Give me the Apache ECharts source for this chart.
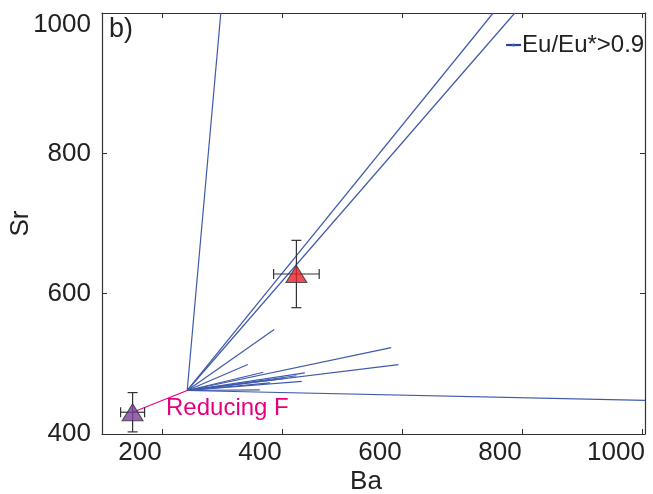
<!DOCTYPE html>
<html>
<head>
<meta charset="utf-8">
<script src="https://cdn.jsdelivr.net/npm/echarts@6/dist/echarts.min.js"></script>
<style>
  html, body { margin: 0; padding: 0; background: #fff; }
  #chart { width: 653px; height: 494px; }
</style>
</head>
<body>
<div id="chart"></div>
<script>
const FONT = '"Liberation Sans", Arial, Helvetica, sans-serif';
const TEXT = '#222';
const FRAME = '#333';
const TREND = '#3f5aab';
const PINK = '#e6007e';

// Common starting composition of the modelled trends
const startBa = 242;
const startSr = 462;

// End points of the modelled trends (Eu/Eu* > 0.9)
const trendEndBa = [298, 752, 788, 387, 343, 582, 594, 369, 438, 424, 433, 402, 380, 363, 1005];
const trendEndSr = [1000, 1000, 1000, 549, 499, 523, 499, 488, 487, 483, 475, 479, 473, 463, 448];

// Measured compositions with their uncertainties
const sampleBa = [151, 424];
const sampleSr = [431, 628];
const sampleErrBa = [20, 38];
const sampleErrSr = [28, 48];
const sampleColors = ['#7b3f98', '#e3202b'];

// Axis ticks
const xTicks = [200, 400, 600, 800, 1000];
const yTicks = [400, 600, 800, 1000];

const X_MIN = 100, X_MAX = 1005, Y_MIN = 400, Y_MAX = 1000;

const trendSeries = trendEndBa.map((ba, i) => ({
  name: 'Eu/Eu*>0.9',
  type: 'line',
  data: [[startBa, startSr], [ba, trendEndSr[i]]],
  symbol: 'none',
  lineStyle: { color: TREND, width: 1.2 },
  itemStyle: { color: TREND },
  silent: true,
  z: 2
}));

const reducingLine = {
  name: 'Reducing F',
  type: 'line',
  data: [[sampleBa[0], sampleSr[0]], [startBa, startSr]],
  symbol: 'none',
  lineStyle: { color: PINK, width: 1.2 },
  silent: true,
  z: 3
};

const errorBars = {
  type: 'custom',
  data: sampleBa.map((ba, i) => [ba, sampleSr[i], sampleErrBa[i], sampleErrSr[i]]),
  renderItem(params, api) {
    const x = api.value(0), y = api.value(1), ex = api.value(2), ey = api.value(3);
    const c = api.coord([x, y]);
    const l = api.coord([x - ex, y]);
    const r = api.coord([x + ex, y]);
    const t = api.coord([x, y + ey]);
    const b = api.coord([x, y - ey]);
    const cap = 5;
    const style = { stroke: FRAME, lineWidth: 1.2 };
    const seg = (x1, y1, x2, y2) => ({ type: 'line', shape: { x1, y1, x2, y2 }, style });
    return {
      type: 'group',
      children: [
        seg(l[0], c[1], r[0], c[1]),
        seg(c[0], t[1], c[0], b[1]),
        seg(l[0], c[1] - cap, l[0], c[1] + cap),
        seg(r[0], c[1] - cap, r[0], c[1] + cap),
        seg(c[0] - cap, t[1], c[0] + cap, t[1]),
        seg(c[0] - cap, b[1], c[0] + cap, b[1])
      ]
    };
  },
  silent: true,
  z: 4
};

const samples = {
  type: 'scatter',
  data: sampleBa.map((ba, i) => ({
    value: [ba, sampleSr[i]],
    itemStyle: { color: sampleColors[i], borderColor: FRAME, borderWidth: 1 }
  })),
  symbol: 'triangle',
  symbolSize: [21, 17],
  silent: true,
  z: 5
};

const tickStyle = { show: true, inside: true, length: 5, lineStyle: { color: FRAME, width: 1 } };
const lineStyle = { show: true, lineStyle: { color: FRAME, width: 1.2 } };

const chart = echarts.init(document.getElementById('chart'), null, { renderer: 'canvas' });
chart.setOption({
  animation: false,
  backgroundColor: '#fff',
  grid: { left: 102, right: 8, top: 13, bottom: 60, containLabel: false, outerBoundsMode: 'none' },
  legend: {
    data: ['Eu/Eu*>0.9'],
    left: 500,
    top: 28,
    itemWidth: 15,
    itemHeight: 4,
    itemGap: 4,
    lineStyle: { width: 2.2, color: '#2a3f96' },
    textStyle: { fontFamily: FONT, fontSize: 24, color: TEXT, padding: [0, 0, 0, -4] },
    selectedMode: false
  },
  xAxis: [{
    type: 'value', min: X_MIN, max: X_MAX, position: 'bottom',
    name: 'Ba', nameLocation: 'middle', nameGap: 35, nameMoveOverlap: false,
    nameTextStyle: { fontFamily: FONT, fontSize: 26, color: TEXT, padding: [0, 15, 0, 0] },
    axisLine: lineStyle,
    axisTick: Object.assign({ customValues: xTicks }, tickStyle),
    axisLabel: {
      customValues: xTicks,
      margin: 6,
      formatter: v => (v === 1000 ? '{e|' + v + '}' : '{n|' + v + '}'),
      rich: {
        n: { fontFamily: FONT, fontSize: 26, color: TEXT, padding: [0, 44, 0, 0] },
        e: { fontFamily: FONT, fontSize: 26, color: TEXT, padding: [0, 52, 0, 0] }
      }
    },
    splitLine: { show: false }
  }, {
    type: 'value', min: X_MIN, max: X_MAX, position: 'top',
    axisLine: lineStyle,
    axisTick: Object.assign({ customValues: xTicks }, tickStyle),
    axisLabel: { show: false },
    splitLine: { show: false }
  }],
  yAxis: [{
    type: 'value', min: Y_MIN, max: Y_MAX, position: 'left',
    name: 'Sr', nameLocation: 'middle', nameGap: 68, nameRotate: 90, nameMoveOverlap: false,
    nameTextStyle: { fontFamily: FONT, fontSize: 26, color: TEXT },
    axisLine: lineStyle,
    axisTick: Object.assign({ customValues: yTicks }, tickStyle),
    axisLabel: {
      customValues: yTicks,
      margin: 11,
      formatter: v => (v === 1000 ? '{t|' + v + '}' : '{n|' + v + '}'),
      rich: {
        n: { fontFamily: FONT, fontSize: 26, color: TEXT },
        t: { fontFamily: FONT, fontSize: 26, color: TEXT, padding: [24, 0, 0, 0] }
      }
    },
    splitLine: { show: false }
  }, {
    type: 'value', min: Y_MIN, max: Y_MAX, position: 'right',
    axisLine: lineStyle,
    axisTick: Object.assign({ customValues: yTicks }, tickStyle),
    axisLabel: { show: false },
    splitLine: { show: false }
  }],
  graphic: [{
    type: 'text', left: 109, top: 16, silent: true,
    style: { text: 'b)', fontFamily: FONT, fontSize: 27, fill: TEXT }
  }, {
    type: 'text', x: 166, y: 408, silent: true,
    style: { text: 'Reducing F', fontFamily: FONT, fontSize: 24, fill: PINK, textVerticalAlign: 'middle' }
  }],
  series: [...trendSeries, reducingLine, errorBars, samples]
});
</script>
</body>
</html>
